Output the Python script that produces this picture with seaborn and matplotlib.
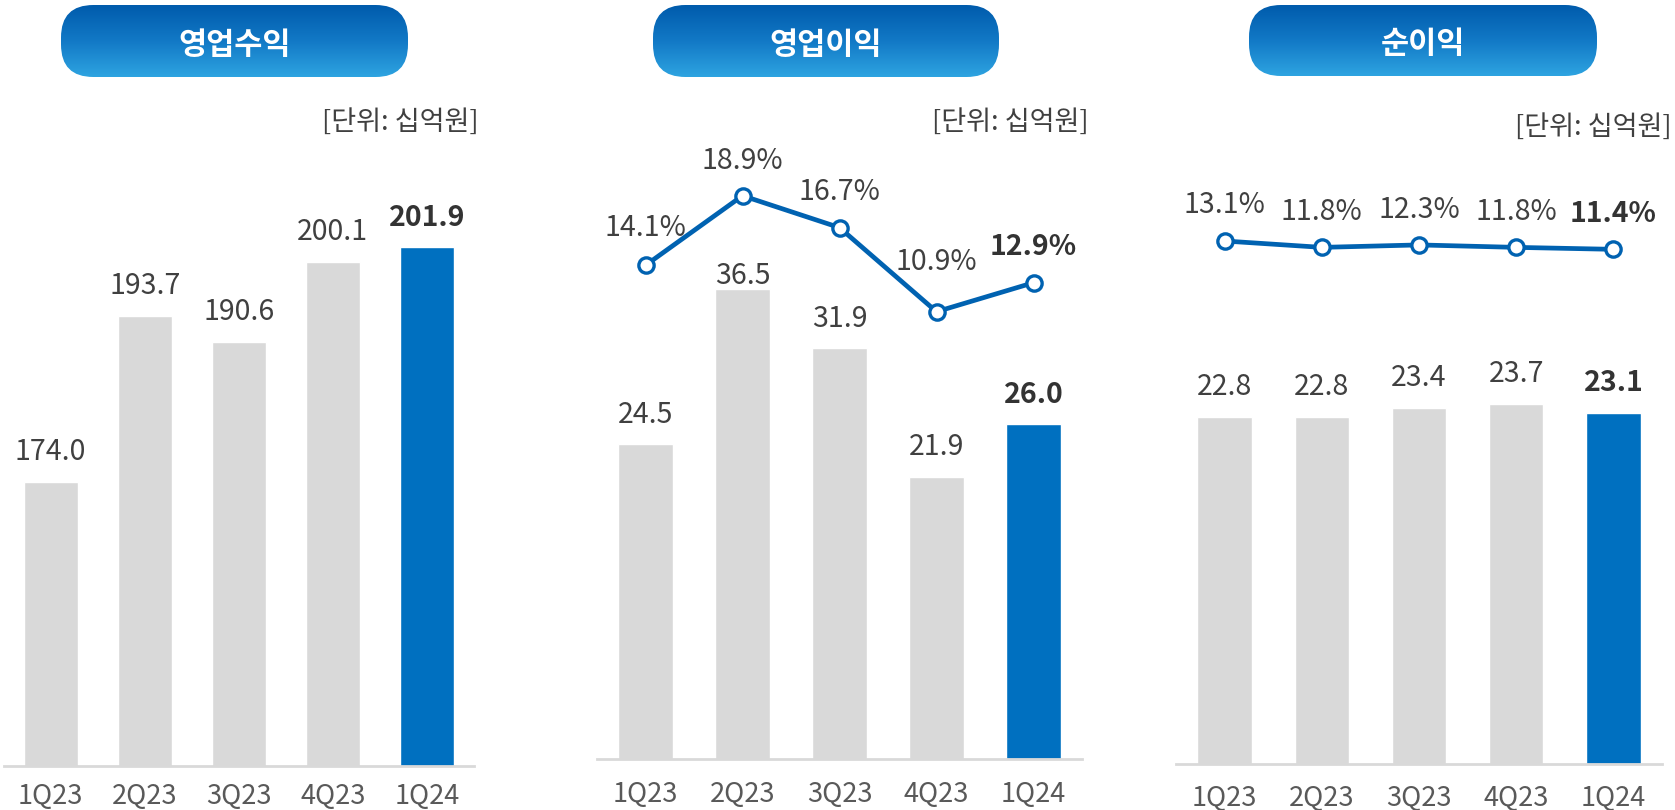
import matplotlib

matplotlib.use("Agg")

import matplotlib.pyplot as plt
import numpy as np
import seaborn as sns
from matplotlib.colors import LinearSegmentedColormap
from matplotlib.patches import FancyBboxPatch

W, H = 1675, 810

# data
quarters = ["1Q23", "2Q23", "3Q23", "4Q23", "1Q24"]
revenue = [174.0, 193.7, 190.6, 200.1, 201.9]
op_income = [24.5, 36.5, 31.9, 21.9, 26.0]
op_margin = [14.1, 18.9, 16.7, 10.9, 12.9]
net_income = [22.8, 22.8, 23.4, 23.7, 23.1]
net_margin = [13.1, 11.8, 12.3, 11.8, 11.4]
titles = ["영업수익", "영업이익", "순이익"]
unit_label = "[단위: 십억원]"

GRAY = "#D9D9D9"
BLUE = "#0070C0"
LINE = "#0062B1"
TEXT = "#404040"
BOLD_TEXT = "#333333"
TICK = "#595959"

sns.set_theme(style="white")
plt.rcParams["font.family"] = ["Noto Sans CJK KR", "DejaVu Sans"]

fig = plt.figure(figsize=(W / 100, H / 100), dpi=100)


def px_axes(x0, x1, y0, y1):
    """Axes placed by pixel box (y measured from the top)."""
    return fig.add_axes([x0 / W, 1 - y1 / H, (x1 - x0) / W, (y1 - y0) / H])


def draw_pill(x0, x1, y0, y1, title):
    w, h = x1 - x0, y1 - y0
    ax = px_axes(x0, x1, y0, y1)
    ax.set_xlim(0, w)
    ax.set_ylim(0, h)
    ax.axis("off")
    cmap = LinearSegmentedColormap.from_list("pill", ["#2EA4E1", "#1279C6", "#005BAC"])
    grad = np.linspace(0, 1, 256).reshape(-1, 1)
    im = ax.imshow(grad, extent=[0, w, 0, h], origin="lower", aspect="auto", cmap=cmap)
    box = FancyBboxPatch((0, 0), w, h, boxstyle=f"round,pad=0,rounding_size={h * 0.45}",
                         transform=ax.transData, facecolor="none", edgecolor="none")
    ax.add_patch(box)
    im.set_clip_path(box)
    ax.text(w / 2, h / 2 - 4, title, color="white", ha="center", va="center",
            fontsize=22, fontweight="bold")


def pixel_ylim(y0, y1, v_ref, p_ref, ppu):
    return v_ref - (y1 - p_ref) / ppu, v_ref + (p_ref - y0) / ppu


def bar_panel(box, values, bar_width, ylim, label_offsets, dividers, tick_pad):
    x0, x1, y0, y1 = box
    ax = px_axes(x0, x1, y0, y1)
    colors = [GRAY] * (len(values) - 1) + [BLUE]
    sns.barplot(x=quarters, y=values, hue=quarters, palette=colors, legend=False,
                width=bar_width, saturation=1, ax=ax)
    ax.set_ylim(*ylim)
    ax.set_xlim(-0.5, len(values) - 0.5)
    ax.set_xlabel("")
    ax.set_ylabel("")
    ax.set_yticks([])
    for side in ["left", "right", "top"]:
        ax.spines[side].set_visible(False)
    ax.spines["bottom"].set_color(GRAY)
    ax.spines["bottom"].set_linewidth(2)
    ax.tick_params(axis="x", which="major", length=0, pad=tick_pad, labelsize=19.5, labelcolor=TICK)
    if dividers:
        ax.set_xticks(np.arange(-0.5, len(values)), minor=True)
        ax.tick_params(axis="x", which="minor", length=6, width=1.5, color=GRAY, direction="out")
    for i, (v, off) in enumerate(zip(values, label_offsets)):
        last = i == len(values) - 1
        ax.annotate(f"{v:.1f}", (i, v), xytext=(0, off), textcoords="offset pixels",
                    ha="center", va="baseline", fontsize=20.5,
                    color=BOLD_TEXT if last else TEXT,
                    fontweight="bold" if last else "normal")
    return ax


def margin_line(ax, margins, ylim, label_offsets):
    ax2 = ax.twinx()
    sns.lineplot(x=np.arange(len(margins)), y=margins, ax=ax2, color=LINE, linewidth=3.4,
                 marker="o", markersize=11, markerfacecolor="white",
                 markeredgecolor=LINE, markeredgewidth=2.4)
    ax2.set_ylim(*ylim)
    ax.set_xlim(-0.5, len(margins) - 0.5)
    ax2.axis("off")
    for i, (m, off) in enumerate(zip(margins, label_offsets)):
        last = i == len(margins) - 1
        ax2.annotate(f"{m:.1f}%", (i, m), xytext=(0, off), textcoords="offset pixels",
                     ha="center", va="baseline", fontsize=20.5,
                     color=BOLD_TEXT if last else TEXT,
                     fontweight="bold" if last else "normal")


# 영업수익
left_box = (3.6, 474, 140, 766)
bar_panel(left_box, revenue, 0.575,
          pixel_ylim(140, 766, 174.0, 482, 8.42), [22, 22, 22, 22, 21],
          dividers=False, tick_pad=12)

# 영업이익
mid_box = (597, 1082, 140, 759)
ax_mid = bar_panel(mid_box, op_income, 0.56,
                   pixel_ylim(140, 759, 0, 759, 12.87), [21, 5, 21, 22, 21],
                   dividers=True, tick_pad=16)
margin_line(ax_mid, op_margin, pixel_ylim(140, 759, 18.9, 195.7, 14.5), [29, 27, 28, 42, 28])

# 순이익
right_box = (1176, 1662, 140, 764)
ax_right = bar_panel(right_box, net_income, 0.56,
                     pixel_ylim(140, 764, 0, 764, 15.2), [22, 22, 22, 22, 22],
                     dividers=True, tick_pad=15)
margin_line(ax_right, net_margin, pixel_ylim(140, 764, 13.1, 241, 4.9), [28, 27, 27, 27, 27])

# title pills and unit notes
for (px0, px1, py0, py1), title in zip([(61, 408, 5, 77), (653, 999, 5, 77), (1249, 1597, 5, 76)], titles):
    draw_pill(px0, px1, py0, py1, title)

for ux, uy in [(479, 122), (1089, 122), (1672, 127)]:
    fig.text(ux / W, 1 - uy / H, unit_label, ha="right", va="center", fontsize=19.5, color=TEXT)

fig.savefig("out.png", dpi=100)
plt.close(fig)
